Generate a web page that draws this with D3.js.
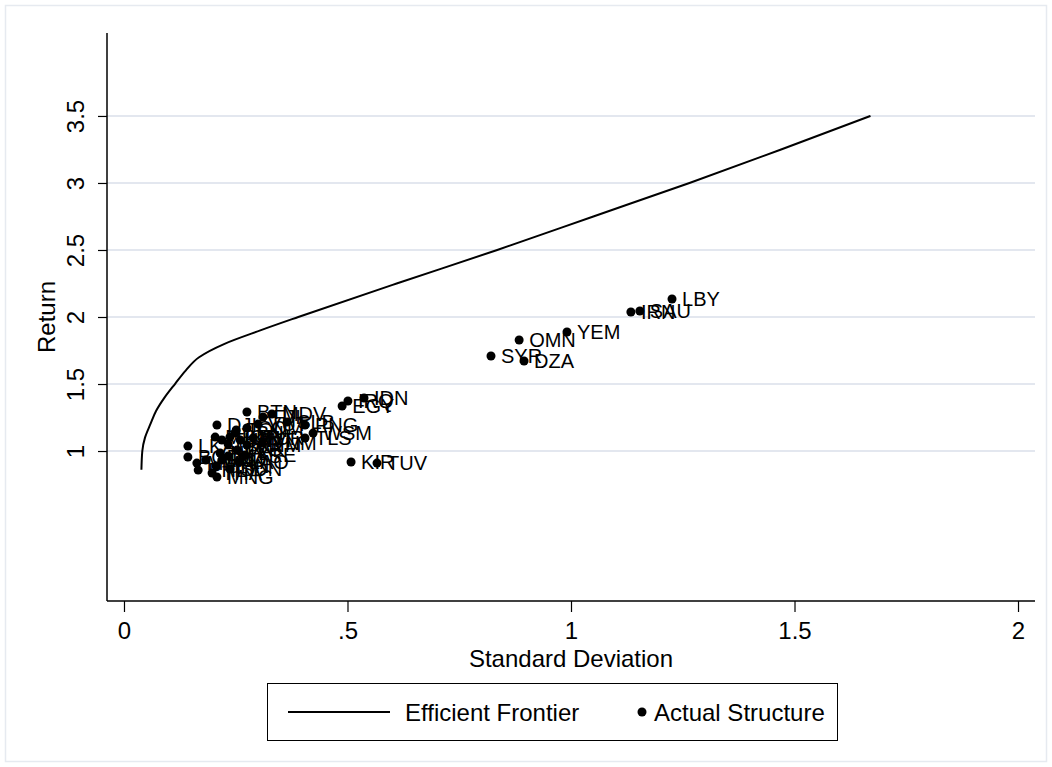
<!DOCTYPE html>
<html>
<head>
<meta charset="utf-8">
<script src="https://d3js.org/d3.v7.min.js"></script>
<style>
  body { margin: 0; background: #fff; }
  svg { font-family: "Liberation Sans", Arial, sans-serif; }
</style>
</head>
<body>
<script>
// frontier curve (return vs standard deviation)
var frontierSD  = [0.039, 0.041, 0.047, 0.059, 0.072, 0.091, 0.114, 0.138, 0.168, 0.225, 0.305, 0.39, 0.61, 0.835, 1.05, 1.265, 1.47, 1.67],
    frontierRet = [0.86, 1.0, 1.1, 1.2, 1.3, 1.4, 1.5, 1.6, 1.7, 1.8, 1.9, 2.0, 2.25, 2.5, 2.75, 3.0, 3.25, 3.5];

// actual structure, one entry per country
var countries  = ['LBY','IRN','SAU','YEM','OMN','SYR','DZA','IDN','IRQ','EGY','KIR','TUV',
                  'WSM','TLS','PNG','SLB','MDV','BTN','FJI','VUT','DJI','TON','COM','MRT',
                  'JOR','LBN','KHM','VNM','TUN','MAR','LKA','BGD','NPL','PAK','ARE','MYS',
                  'IND','LAO','MMR','PHL','CHN','THA','MNG','SDN','AFG','TUR','KWT'],
    countrySD  = [1.226, 1.134, 1.154, 0.991, 0.884, 0.821, 0.895, 0.537, 0.501, 0.488, 0.508, 0.566,
                  0.423, 0.405, 0.405, 0.365, 0.331, 0.275, 0.311, 0.300, 0.208, 0.251, 0.275, 0.204,
                  0.237, 0.248, 0.275, 0.309, 0.219, 0.233, 0.143, 0.143, 0.215, 0.253, 0.271, 0.233,
                  0.219, 0.257, 0.163, 0.166, 0.206, 0.197, 0.208, 0.237, 0.183, 0.289, 0.260],
    countryRet = [2.134, 2.037, 2.045, 1.888, 1.828, 1.709, 1.672, 1.396, 1.373, 1.336, 0.918, 0.910,
                  1.134, 1.097, 1.194, 1.216, 1.276, 1.291, 1.254, 1.201, 1.194, 1.157, 1.172, 1.104,
                  1.104, 1.134, 1.045, 1.060, 1.082, 1.052, 1.037, 0.955, 0.985, 1.007, 0.970, 0.963,
                  0.933, 0.918, 0.910, 0.858, 0.888, 0.836, 0.806, 0.866, 0.933, 1.097, 1.082];

var xTicks = [0, 0.5, 1, 1.5, 2],
    xTickLabels = ['0', '.5', '1', '1.5', '2'],
    yTicks = [1, 1.5, 2, 2.5, 3, 3.5],
    yTickLabels = ['1', '1.5', '2', '2.5', '3', '3.5'];

var w = 1052,
    h = 767,
    svg = d3.select('body')
            .append('svg')
            .attr('width', w)
            .attr('height', h);

// outer frame
svg.append('rect')
  .attr('x', 5.5).attr('y', 5.5)
  .attr('width', w - 11).attr('height', h - 11)
  .attr('fill', '#fff')
  .attr('stroke', '#e6eaf0')
  .attr('stroke-width', 1.5);

var plotL = 107, plotR = 1035, plotT = 33, plotB = 601;

var x = d3.scaleLinear().domain([-0.038, 2.038]).range([plotL, plotR]),
    y = d3.scaleLinear().domain([-0.119, 4.119]).range([plotB, plotT]);

// gridlines
svg.selectAll('line.grid')
  .data(yTicks)
  .enter()
  .append('line')
  .classed('grid', true)
  .attr('x1', plotL).attr('x2', plotR)
  .attr('y1', function(d){ return y(d); })
  .attr('y2', function(d){ return y(d); })
  .attr('stroke', '#e3e7ef')
  .attr('stroke-width', 2);

// axes
var yAxis = d3.axisLeft(y)
  .tickValues(yTicks)
  .tickSize(9)
  .tickFormat(function(d, i){ return yTickLabels[i]; });
var xAxis = d3.axisBottom(x)
  .tickValues(xTicks)
  .tickSize(11)
  .tickFormat(function(d, i){ return xTickLabels[i]; });

var gy = svg.append('g')
  .attr('transform', 'translate(' + plotL + ',0)')
  .call(yAxis);
var gx = svg.append('g')
  .attr('transform', 'translate(0,' + plotB + ')')
  .call(xAxis);

[gx, gy].forEach(function(g){
  g.select('.domain').remove();
  g.selectAll('.tick line').attr('stroke', '#000').attr('stroke-width', 1.2);
  g.selectAll('.tick text')
    .attr('fill', '#000')
    .style('font-size', '24px')
    .style('font-family', '"Liberation Sans", Arial, sans-serif');
});

gx.selectAll('.tick text').attr('y', 21);
gy.selectAll('.tick text')
  .attr('text-anchor', 'middle')
  .attr('dy', null)
  .attr('x', null)
  .attr('y', 0)
  .attr('transform', 'translate(-23,0) rotate(-90)');

svg.append('line')
  .attr('x1', plotL).attr('x2', plotL)
  .attr('y1', plotT).attr('y2', plotB)
  .attr('stroke', '#000').attr('stroke-width', 1.5);
svg.append('line')
  .attr('x1', plotL).attr('x2', plotR)
  .attr('y1', plotB).attr('y2', plotB)
  .attr('stroke', '#000').attr('stroke-width', 1.5);

// axis titles
svg.append('text')
  .attr('x', (plotL + plotR) / 2)
  .attr('y', 667)
  .attr('text-anchor', 'middle')
  .style('font-size', '24px')
  .text('Standard Deviation');
svg.append('text')
  .attr('transform', 'translate(55,' + (plotT + plotB) / 2 + ') rotate(-90)')
  .attr('text-anchor', 'middle')
  .style('font-size', '24px')
  .text('Return');

// efficient frontier
var line = d3.line()
  .x(function(d){ return x(d[0]); })
  .y(function(d){ return y(d[1]); })
  .curve(d3.curveMonotoneY);

svg.append('path')
  .datum(d3.zip(frontierSD, frontierRet))
  .attr('d', line)
  .attr('fill', 'none')
  .attr('stroke', '#000')
  .attr('stroke-width', 2);

// actual structure points with labels
var pts = svg.selectAll('g.pt')
  .data(countries)
  .enter()
  .append('g')
  .classed('pt', true)
  .attr('transform', function(d, i){
    return 'translate(' + x(countrySD[i]) + ',' + y(countryRet[i]) + ')';
  });

pts.append('circle')
  .attr('r', 4.5)
  .attr('fill', '#000');

pts.append('text')
  .attr('x', 10)
  .attr('dy', '0.36em')
  .style('font-size', '20px')
  .text(function(d){ return d; });

// legend
var lg = svg.append('g');
lg.append('rect')
  .attr('x', 267.5).attr('y', 683.5)
  .attr('width', 570).attr('height', 57)
  .attr('fill', '#fff')
  .attr('stroke', '#000')
  .attr('stroke-width', 1);
lg.append('line')
  .attr('x1', 288).attr('x2', 390)
  .attr('y1', 712).attr('y2', 712)
  .attr('stroke', '#000').attr('stroke-width', 2);
lg.append('text')
  .attr('x', 405).attr('y', 712).attr('dy', '0.36em')
  .style('font-size', '24px')
  .text('Efficient Frontier');
lg.append('circle')
  .attr('cx', 642).attr('cy', 712).attr('r', 4.5)
  .attr('fill', '#000');
lg.append('text')
  .attr('x', 654).attr('y', 712).attr('dy', '0.36em')
  .style('font-size', '24px')
  .text('Actual Structure');
</script>
</body>
</html>
